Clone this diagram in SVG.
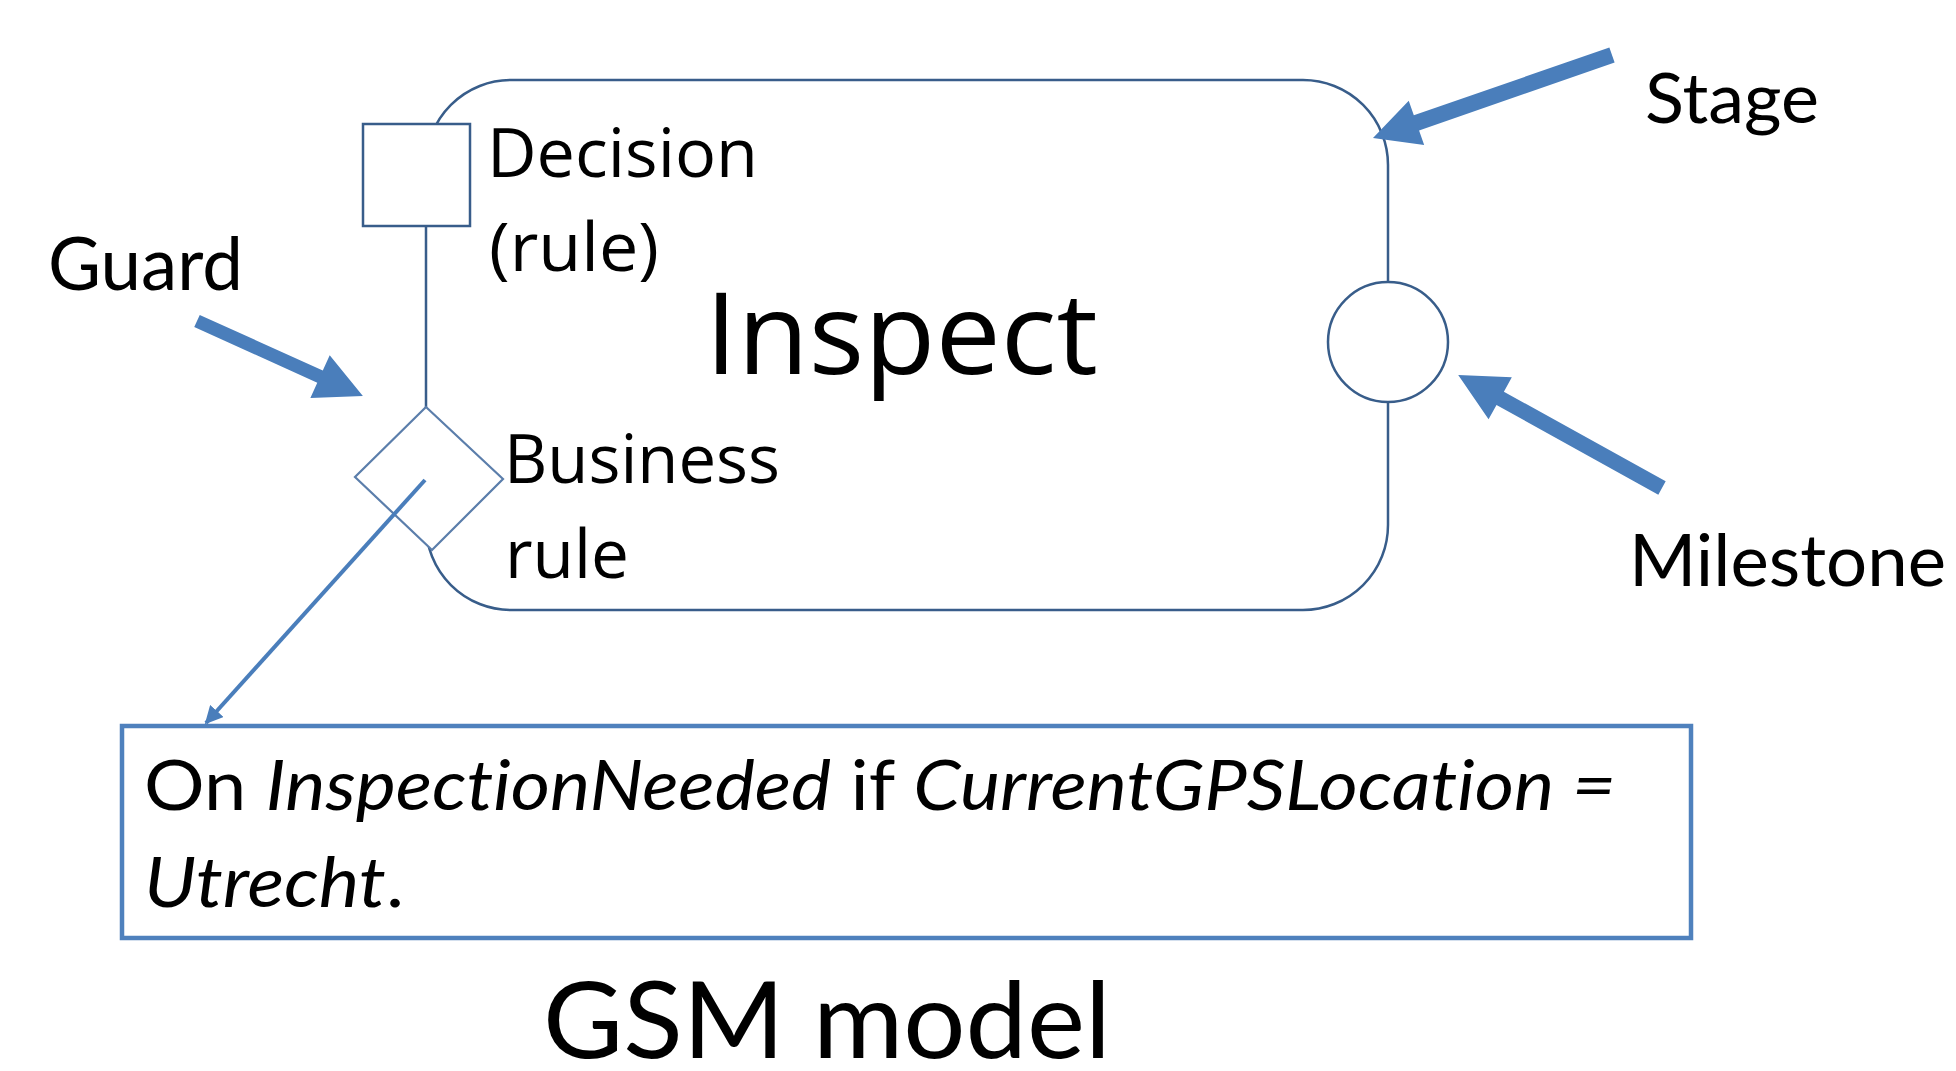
<svg xmlns="http://www.w3.org/2000/svg" width="1956" height="1071" viewBox="0 0 1956 1071">
  <style>
    .outline { fill: #ffffff; stroke: #385d8a; stroke-width: 2.5; }
    .guard { fill: #ffffff; stroke: #5b7eab; stroke-width: 2.2; }
    .pointer { fill: #4a7ebb; stroke: none; }
    .inner { font-family: "Open Sans", "Noto Sans", sans-serif; fill: #000000; }
    .label { font-family: "Lato", "Liberation Sans", sans-serif; fill: #000000; font-variant-ligatures: none; }
    .it { font-style: italic; }
  </style>
  <defs>
    <marker id="tipSmall" viewBox="0 0 10 10" refX="9" refY="5" markerWidth="4.5" markerHeight="4.5" markerUnits="strokeWidth" orient="auto">
      <path d="M0,0 L10,5 L0,10 Z" fill="#4a7ebb"/>
    </marker>
  </defs>

  <rect width="1956" height="1071" fill="#ffffff"/>

  <!-- Stage: rounded container -->
  <g id="stage">
    <rect class="outline" x="426" y="80" width="962" height="530" rx="85" ry="85"/>
    <text class="inner" x="705" y="374" font-size="114" textLength="393" lengthAdjust="spacingAndGlyphs">Inspect</text>
  </g>

  <!-- Decision (rule) square on the stage border -->
  <g id="decision">
    <rect class="outline" x="363" y="124" width="107" height="102" stroke-width="3"/>
    <text class="inner" x="487" y="177" font-size="67" textLength="271" lengthAdjust="spacingAndGlyphs">Decision</text>
    <text class="inner" x="489" y="271" font-size="67" textLength="170" lengthAdjust="spacingAndGlyphs">(rule)</text>
  </g>

  <!-- Business rule diamond (guard) -->
  <g id="business-rule">
    <polygon class="guard" points="426,407 503,479 432,550 355,477"/>
    <text class="inner" x="504" y="483" font-size="67" textLength="276" lengthAdjust="spacingAndGlyphs">Business</text>
    <text class="inner" x="505" y="578" font-size="67" textLength="124" lengthAdjust="spacingAndGlyphs">rule</text>
  </g>

  <!-- Milestone circle on the right border -->
  <g id="milestone">
    <circle class="outline" cx="1388" cy="342" r="60"/>
  </g>

  <!-- Rule text box -->
  <g id="rule-box">
    <rect x="122" y="726" width="1569" height="212" fill="#ffffff" stroke="#4f81bd" stroke-width="4.5"/>
    <text class="label" x="144" y="810" font-size="70" textLength="1472" lengthAdjust="spacingAndGlyphs">On <tspan class="it">InspectionNeeded</tspan> if <tspan class="it">CurrentGPSLocation =</tspan></text>
    <text class="label" x="144" y="907" font-size="70" textLength="260" lengthAdjust="spacingAndGlyphs"><tspan class="it">Utrecht</tspan>.</text>
  </g>

  <!-- Callout labels -->
  <g id="label-guard">
    <text class="label" x="48" y="290" font-size="73" textLength="195" lengthAdjust="spacingAndGlyphs">Guard</text>
  </g>
  <g id="label-stage">
    <text class="label" x="1645" y="123" font-size="70" textLength="174" lengthAdjust="spacingAndGlyphs">Stage</text>
  </g>
  <g id="label-milestone">
    <text class="label" x="1629" y="586" font-size="71" textLength="317" lengthAdjust="spacingAndGlyphs">Milestone</text>
  </g>
  <g id="caption">
    <text class="label" x="543" y="1058" font-size="106" textLength="568" lengthAdjust="spacingAndGlyphs">GSM model</text>
  </g>

  <!-- Connectors -->
  <g id="connectors">
    <!-- block arrows: drawn pointing right from the tail, then placed -->
    <path class="pointer" transform="translate(197,321) rotate(24.3)" d="M0,-6.7 L135,-6.7 L135,-23.5 L182,0 L135,23.5 L135,6.7 L0,6.7 Z"/>
    <path class="pointer" transform="translate(1612,55) rotate(160.85)" d="M0,-8 L207,-8 L207,-23.5 L253,0 L207,23.5 L207,8 L0,8 Z"/>
    <path class="pointer" transform="translate(1662,488) rotate(-151)" d="M0,-7.6 L185,-7.6 L185,-24 L233,0 L185,24 L185,7.6 L0,7.6 Z"/>
    <!-- rule link from the diamond to the text box -->
    <line x1="425" y1="480" x2="206" y2="723" stroke="#4a7ebb" stroke-width="4" marker-end="url(#tipSmall)"/>
  </g>
</svg>
